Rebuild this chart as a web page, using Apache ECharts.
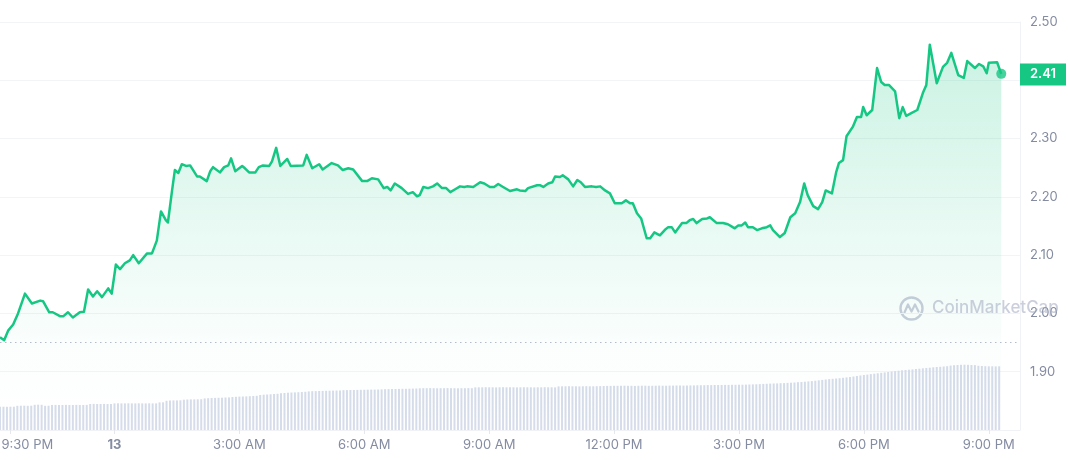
<!DOCTYPE html>
<html><head><meta charset="utf-8">
<script src="https://cdn.jsdelivr.net/npm/echarts@6/dist/echarts.min.js"></script>
<style>html,body{margin:0;padding:0;background:#fff}#c{width:1068px;height:460px}</style>
</head><body><div id="c"></div>
<script>
// time in minutes relative to 00:00 on the 13th (negative = previous evening)
const priceTimes = [-165,-159,-153,-146,-139,-129,-119,-107,-103,-94,-89,-78,-74,-67,-60,-50,-44,-38,-31,-25,-18,-9,-4,2,8,15,22,27,35,47,54,61,67,74,77,83,87,92,97,103,109,119,123,133,138,142,152,158,164,168,174,184,188,194,203,208,214,223,227,233,239,249,254,272,277,285,295,300,313,322,329,337,344,357,364,371,380,388,393,398,404,414,423,430,436,440,445,452,459,465,472,478,484,491,498,504,508,517,527,533,541,547,553,560,570,580,584,592,596,609,613,618,625,631,635,642,646,654,661,667,672,678,688,694,700,707,714,721,731,737,743,747,753,759,767,772,778,786,793,798,803,808,818,824,829,834,839,847,854,858,868,877,884,891,894,899,904,909,913,920,926,933,940,945,949,959,966,974,981,988,994,999,1007,1014,1020,1025,1034,1040,1044,1050,1055,1064,1070,1076,1079,1084,1092,1099,1105,1110,1116,1125,1131,1136,1141,1149,1157,1165,1170,1175,1185,1194,1200,1206,1216,1224,1229,1240,1246,1252,1257,1260,1272,1278];
const priceValues = [1.959,1.954,1.971,1.981,2.000,2.034,2.017,2.022,2.021,2.002,2.002,1.995,1.995,2.002,1.993,2.002,2.003,2.041,2.029,2.038,2.028,2.043,2.034,2.084,2.076,2.086,2.091,2.100,2.086,2.103,2.103,2.125,2.175,2.160,2.156,2.211,2.246,2.241,2.256,2.253,2.254,2.235,2.235,2.227,2.244,2.251,2.242,2.251,2.254,2.266,2.244,2.253,2.249,2.242,2.242,2.251,2.254,2.253,2.261,2.284,2.253,2.265,2.253,2.254,2.272,2.249,2.256,2.247,2.258,2.254,2.246,2.249,2.247,2.227,2.227,2.232,2.230,2.215,2.217,2.211,2.223,2.215,2.205,2.208,2.201,2.203,2.217,2.215,2.218,2.223,2.215,2.215,2.208,2.213,2.218,2.217,2.218,2.217,2.225,2.223,2.217,2.217,2.222,2.217,2.210,2.213,2.211,2.210,2.215,2.220,2.220,2.217,2.223,2.225,2.235,2.234,2.237,2.230,2.218,2.229,2.225,2.217,2.218,2.217,2.218,2.211,2.206,2.189,2.189,2.194,2.189,2.189,2.172,2.163,2.129,2.129,2.139,2.134,2.143,2.148,2.148,2.139,2.155,2.155,2.160,2.162,2.155,2.162,2.163,2.165,2.155,2.155,2.153,2.148,2.146,2.151,2.151,2.156,2.148,2.148,2.143,2.146,2.148,2.151,2.143,2.131,2.138,2.165,2.172,2.191,2.223,2.203,2.184,2.179,2.191,2.211,2.206,2.242,2.258,2.263,2.304,2.320,2.337,2.337,2.354,2.340,2.349,2.421,2.397,2.392,2.392,2.381,2.335,2.354,2.339,2.344,2.349,2.378,2.392,2.461,2.395,2.423,2.430,2.447,2.409,2.404,2.433,2.421,2.428,2.424,2.412,2.430,2.431,2.411];
// 5-minute volume bars, first bar at volStart
const volStart = -165, volStep = 5;
const volumeValues = [
23.3,23.3,23.2,23.3,23.3, 24.2,24.3,24.3,24.2,24.3, 25.2,25.3,25.2, 24.2,24.3,
25.0,25.1,25.0,25.0,25.1,25.0,25.0,25.1,25.0,25.0,25.1,
26.0,26.1,26.0,26.0,26.1,26.0,26.0,
26.6,26.7,26.6,26.6,26.7,26.6,26.6,26.7,26.6,26.6,26.7,26.6,26.6,
27.6,27.7, 29.2,29.5,29.6,29.6,29.7, 30.3,30.5,30.6,30.6,30.7,30.8,
31.6,31.8,32.0,32.1,32.2,32.3,32.5,32.6, 33.0,33.2,33.4,33.5,33.6,33.8,34.0,34.2,
35.0,35.3,35.5,35.7,36.0,36.2, 36.8,37.0,37.3,37.5,37.6,37.8,38.0,38.2,
38.6,38.8,38.9,39.0,39.1,39.2,39.3,39.4,39.5,39.6,
39.8,39.9,40.0,40.0,40.1,40.2,40.2,40.3,40.4,40.4,40.5,40.6,
40.8,40.9,41.0,41.0,41.1,41.2,41.2,41.3,41.4,41.5,
41.7,41.8,41.8,41.9,41.8,41.7,41.8,41.8,41.9,41.8,41.8,41.7,41.8,41.8,41.9,41.8,
42.6,42.7,42.7,42.8,42.7,42.7,42.6,42.7,42.8,42.7,42.7,42.7,42.6,42.7,42.8,42.7,42.7,42.6,42.7,42.7,42.8,42.7,42.7,42.6,
43.6,43.7,43.7,43.8,43.7,43.7,43.6,43.7,43.8,43.7,43.7,43.8,43.9,
44.0,44.1,44.1,44.2,44.2,44.2,44.3,44.2,44.2,44.1,44.2,44.3,44.3,44.2,44.2,44.3,44.4,44.3,44.3,44.4,44.4,44.5,44.5,44.4,44.5,44.6,44.6,
44.7,44.8,44.8,44.9,44.9,45.0,45.0,45.0,45.1,45.1,45.2,45.2,45.3,45.3,45.4,45.5,45.6,45.7,
45.9,46.1,46.2,46.4,46.5,46.6,46.8,46.9,47.1,47.3, 47.5,47.8,48.0,48.3,48.6,48.9,
49.3,49.7,50.1,50.5,50.9,51.2,51.5, 51.8,52.2,52.6,53.1,53.5,54.0,54.5,55.0,55.4,
55.9,56.3,56.7,57.2,57.6,58.0,58.5,58.9,59.3,59.7,60.0,60.3,60.6,61.0,61.3,
61.7,62.0,62.3,62.7,63.0,63.2,63.5,63.8,
64.4,64.8,65.0,65.2,65.3,65.2,65.0,64.9, 64.2,64.0,63.8,63.7,63.7,63.6,63.7];
const xTickMinutes = [-150, 0, 180, 360, 540, 720, 900, 1080, 1260];
const xTickLabels = ['9:30 PM', '13', '3:00 AM', '6:00 AM', '9:00 AM', '12:00 PM', '3:00 PM', '6:00 PM', '9:00 PM'];
const openPrice = 1.95;

const GREEN = '#16c784';
const FONT = 'Inter, "Noto Sans", sans-serif';
const priceData = priceTimes.map((t, i) => [t, priceValues[i]]);
const volumeData = volumeValues.map((v, i) => [volStart + i * volStep, v]);
const lastT = priceTimes[priceTimes.length - 1];
const lastV = priceValues[priceValues.length - 1];

const chart = echarts.init(document.getElementById('c'), null, {renderer: 'canvas'});
chart.setOption({
  animation: false,
  backgroundColor: '#ffffff',
  textStyle: {fontFamily: FONT},
  grid: [
    {left: 0, right: 48, top: 22, bottom: 30, outerBoundsMode: 'none', containLabel: false},
    {left: 0, right: 48, top: 330, bottom: 30, outerBoundsMode: 'none', containLabel: false}
  ],
  xAxis: [
    {
      type: 'value', gridIndex: 0, min: -165, max: 1305,
      axisLine: {show: true, onZero: false, lineStyle: {color: '#f0f2f5'}},
      splitLine: {show: false},
      axisTick: {show: true, customValues: xTickMinutes, length: 4, lineStyle: {color: '#e4e7ec'}},
      axisLabel: {
        customValues: xTickMinutes,
        color: '#858ca2', fontSize: 13, fontFamily: FONT, margin: 9,
        formatter: function (v) {
          const i = xTickMinutes.indexOf(v);
          if (i < 0) return '';
          if (i === 0) return '{first|' + xTickLabels[i] + '}';
          if (xTickLabels[i] === '13') return '{bold|' + xTickLabels[i] + '}';
          return xTickLabels[i];
        },
        rich: {
          first: {color: '#858ca2', fontSize: 13, fontFamily: FONT, padding: [0, 0, 0, 34]},
          bold: {color: '#858ca2', fontSize: 13, fontFamily: FONT, fontWeight: 'bold'}
        }
      }
    },
    {type: 'value', gridIndex: 1, min: -165, max: 1305, show: false}
  ],
  yAxis: [
    {
      type: 'value', gridIndex: 0, position: 'right', min: 1.8, max: 2.5, interval: 0.1,
      axisLine: {show: true, onZero: false, lineStyle: {color: '#f0f2f5'}},
      axisTick: {show: false},
      splitLine: {show: true, lineStyle: {color: '#f3f4f6'}},
      axisLabel: {
        color: '#858ca2', fontSize: 13, fontFamily: FONT, margin: 10,
        formatter: function (v) {
          if (Math.abs(v - 1.8) < 1e-6 || Math.abs(v - 2.4) < 1e-6) return '';
          return v.toFixed(2);
        }
      }
    },
    {type: 'value', gridIndex: 1, min: 0, max: 100, show: false}
  ],
  series: [
    {
      type: 'bar', xAxisIndex: 1, yAxisIndex: 1, data: volumeData,
      barWidth: 2, itemStyle: {color: '#d6dcea'}, silent: true
    },
    {
      type: 'line', xAxisIndex: 0, yAxisIndex: 0, data: priceData,
      symbol: 'none', smooth: false,
      lineStyle: {color: GREEN, width: 2.5, join: 'round'},
      areaStyle: {
        color: new echarts.graphic.LinearGradient(0, 0, 0, 1, [
          {offset: 0, color: 'rgba(22,199,132,0.32)'},
          {offset: 0.55, color: 'rgba(22,199,132,0.11)'},
          {offset: 0.8, color: 'rgba(22,199,132,0.02)'},
          {offset: 1, color: 'rgba(22,199,132,0)'}
        ])
      },
      z: 3,
      markLine: {
        silent: true, symbol: 'none', animation: false,
        data: [
          {yAxis: openPrice, lineStyle: {color: '#b4bccb', type: [1.5, 3.5], width: 1}, label: {show: false}},
          {yAxis: lastV, lineStyle: {color: 'rgba(0,0,0,0)', width: 1},
            label: {show: true, position: 'end', distance: 0, formatter: lastV.toFixed(2),
              backgroundColor: GREEN, color: '#ffffff', fontSize: 13, fontWeight: 600, fontFamily: FONT,
              padding: [5, 10, 4, 10], borderRadius: 0}}
        ]
      }
    },
    {
      type: 'scatter', xAxisIndex: 0, yAxisIndex: 0, data: [[lastT, lastV]],
      symbol: 'circle', symbolSize: 10, itemStyle: {color: GREEN}, z: 5, silent: true
    }
  ],
  graphic: [
    {
      type: 'group', left: 898, top: 295, z: 100, silent: true,
      children: [
        {type: 'circle', shape: {cx: 12, cy: 12, r: 11}, style: {fill: 'none', stroke: 'rgba(165,172,195,0.6)', lineWidth: 2.4}},
        {type: 'polyline', shape: {points: [[5, 16], [8.5, 8], [12, 15], [15.5, 8], [19, 15]]}, style: {fill: 'none', stroke: 'rgba(165,172,195,0.6)', lineWidth: 2.2, lineJoin: 'round', lineCap: 'round'}}
      ]
    },
    {
      type: 'text', left: 932, top: 299, z: 100, silent: true,
      style: {text: 'CoinMarketCap', fill: 'rgba(160,168,192,0.55)', font: '500 17px ' + FONT}
    }
  ]
});
</script>
</body></html>
